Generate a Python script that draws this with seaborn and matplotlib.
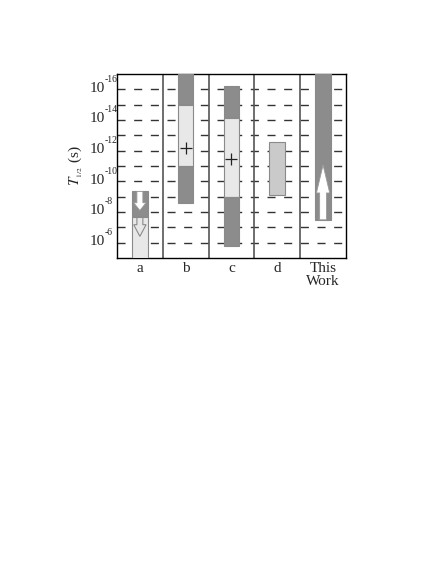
import matplotlib
matplotlib.use("Agg")
import matplotlib.pyplot as plt
import seaborn as sns

# ---- data (log10 of half-life, seconds) ----
categorias = ["a", "b", "c", "d", "This\nWork"]
# segmentos (coluna, inicio, fim, tipo)
seg_coluna = [0, 0, 1, 1, 1, 2, 2, 2, 3, 4]
seg_inicio = [-9.34, -7.7, -17.0, -15.0, -11.0, -16.2, -14.15, -9.0, -12.55, -17.0]
seg_fim = [-7.7, -5.0, -15.0, -11.0, -8.6, -14.15, -9.0, -5.8, -9.08, -7.5]
seg_tipo = ["escuro", "claro", "escuro", "claro", "escuro", "escuro", "claro", "escuro", "medio", "escuro"]
# valores centrais (+)
mais_coluna = [1, 2]
mais_valor = [-12.16, -11.46]
# setas (coluna, inicio, ponta)
seta_a_cheia = (0, -9.34, -8.1)
seta_a_vazia = (0, -7.7, -6.41)
seta_tw = (4, -7.49, -11.07)
decadas = list(range(-16, -5))
rotulos_y = [-16, -14, -12, -10, -8, -6]

cores = {"escuro": "#8c8c8c", "claro": "#e8e8e8", "medio": "#cacaca"}

sns.set_theme(style="white")
plt.rcParams["font.family"] = ["Liberation Serif", "DejaVu Serif"]
plt.rcParams["mathtext.fontset"] = "stix"

fig = plt.figure(figsize=(4.36, 5.64), dpi=100)
ax = fig.add_axes([0.2683, 0.5426, 0.5252, 0.3262])

# linhas tracejadas a cada década
for d in decadas:
    ax.axhline(d, color="#333333", lw=1.0, dashes=(5.8, 6.2), zorder=1)

# separadores das colunas
for xs in [0.5, 1.5, 2.5, 3.5]:
    ax.axvline(xs, color="#555555", lw=1.2, zorder=2)

# barras flutuantes
for c, y0, y1, t in zip(seg_coluna, seg_inicio, seg_fim, seg_tipo):
    ax.bar(c, y1 - y0, bottom=y0, width=0.34, color=cores[t],
           edgecolor="#8a8a8a", linewidth=0.8, zorder=3)

# marcadores +
sns.scatterplot(x=mais_coluna, y=mais_valor, marker="+", s=70, color="#222222",
                linewidth=0.9, ax=ax, zorder=5)

# setas
c, y0, y1 = seta_a_cheia
ax.arrow(c, y0, 0, y1 - y0, width=0.13, head_width=0.27, head_length=0.5,
         length_includes_head=True, fc="white", ec="#9a9a9a", lw=0.6, zorder=6)
c, y0, y1 = seta_a_vazia
ax.arrow(c, y0, 0, y1 - y0, width=0.13, head_width=0.27, head_length=0.76,
         length_includes_head=True, fc="none", ec="#8a8a8a", lw=0.8, zorder=6)
c, y0, y1 = seta_tw
ax.arrow(c, y0, 0, y1 - y0, width=0.15, head_width=0.29, head_length=1.83,
         length_includes_head=True, fc="white", ec="#9a9a9a", lw=0.6, zorder=6)

ax.set_xlim(-0.5, 4.5)
ax.set_ylim(-5, -17)

# rótulos do eixo y no estilo "10" + expoente
ax.set_yticks(rotulos_y)
ax.set_yticklabels([])
tr = ax.get_yaxis_transform()
for v in rotulos_y:
    ax.text(-0.054, v + 0.16, "10", transform=tr, ha="right", va="baseline",
            fontsize=11, clip_on=False)
    ax.text(-0.056, v - 0.5, "-%d" % abs(v), transform=tr, ha="left",
            va="baseline", fontsize=7, clip_on=False)

ax.set_xticks(range(len(categorias)))
ax.set_xticklabels(categorias, fontsize=11, linespacing=0.95)
ax.tick_params(axis="both", length=0, pad=3)
ax.set_ylabel(r"$T_{_{1/2}}$ (s)", fontsize=11)
ax.yaxis.set_label_coords(-0.14, 0.5)

for s in ax.spines.values():
    s.set_color("black")
    s.set_linewidth(1.0)

fig.savefig("out.png", dpi=100)
